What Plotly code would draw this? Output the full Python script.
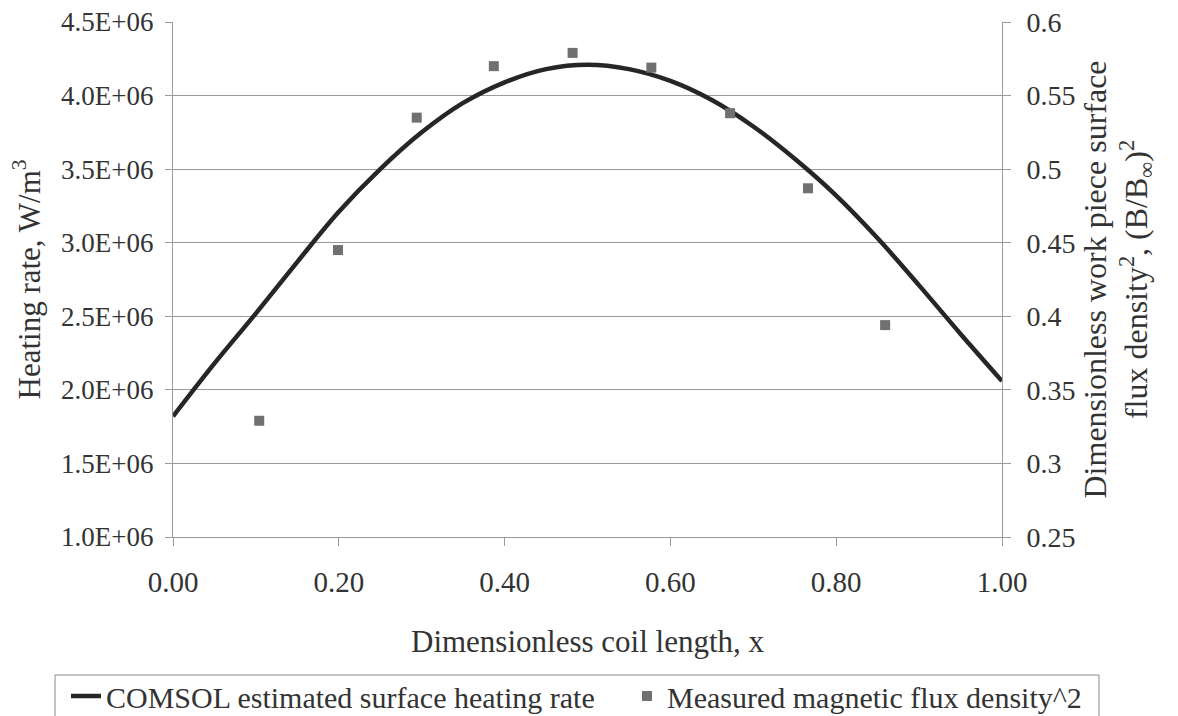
import plotly.graph_objects as go

# COMSOL estimated surface heating rate (W/m^3)
curve_x = [0.00, 0.05, 0.10, 0.15, 0.20, 0.25, 0.30, 0.35, 0.40, 0.45, 0.50,
           0.55, 0.60, 0.65, 0.70, 0.75, 0.80, 0.85, 0.90, 0.95, 1.00]
curve_y = [1.82e6, 2.18e6, 2.52e6, 2.87e6, 3.21e6, 3.50e6, 3.75e6, 3.95e6, 4.09e6, 4.18e6, 4.21e6,
           4.18e6, 4.10e6, 3.97e6, 3.79e6, 3.57e6, 3.32e6, 3.03e6, 2.71e6, 2.38e6, 2.06e6]

# Measured magnetic flux density^2 (dimensionless)
meas_x = [0.104, 0.199, 0.294, 0.387, 0.482, 0.577, 0.672, 0.766, 0.859]
meas_y = [0.329, 0.445, 0.535, 0.570, 0.579, 0.569, 0.538, 0.487, 0.394]

x_tickvals = [0.0, 0.2, 0.4, 0.6, 0.8, 1.0]
x_ticktext = ["0.00", "0.20", "0.40", "0.60", "0.80", "1.00"]
y_tickvals = [1.0e6, 1.5e6, 2.0e6, 2.5e6, 3.0e6, 3.5e6, 4.0e6, 4.5e6]
y_ticktext = ["1.0E+06", "1.5E+06", "2.0E+06", "2.5E+06", "3.0E+06", "3.5E+06", "4.0E+06", "4.5E+06"]
y2_tickvals = [0.25, 0.30, 0.35, 0.40, 0.45, 0.50, 0.55, 0.60]
y2_ticktext = ["0.25", "0.3", "0.35", "0.4", "0.45", "0.5", "0.55", "0.6"]

FONT = "Liberation Serif, Times New Roman, serif"
TXT = "#333333"
GRID = "#9a9a9a"

# page body has an 8px margin; plot area wanted at screen x 173..1002, y 22..537
PW, PH = 829, 515
W, H = 1170, 708
ML, MT = 165, 14
MR, MB = W - ML - PW, H - MT - PH


def px(xs):
    return (xs - 173) / PW


def py(ys):
    return (537 - ys) / PH


fig = go.Figure()
fig.add_trace(go.Scatter(
    x=curve_x, y=curve_y, mode="lines", line=dict(color="#262626", width=4.5, shape="spline"),
    name="COMSOL estimated surface heating rate", yaxis="y", legend="legend"))
fig.add_trace(go.Scatter(
    x=meas_x, y=meas_y, mode="markers",
    marker=dict(symbol="square", size=10, color="#707070"),
    name="Measured magnetic flux density^2", yaxis="y2", legend="legend2"))

leg_common = dict(orientation="h", yref="paper", y=py(670), yanchor="top", xanchor="left",
                  borderwidth=0, bgcolor="rgba(0,0,0,0)",
                  font=dict(size=30, family=FONT, color=TXT))

fig.update_layout(
    width=W, height=H,
    margin=dict(l=ML, r=MR, t=MT, b=MB, autoexpand=False),
    paper_bgcolor="white", plot_bgcolor="white",
    font=dict(family=FONT, color=TXT, size=28),
    showlegend=True,
    legend=dict(x=px(66), **leg_common),
    legend2=dict(x=px(627), **leg_common),
    xaxis=dict(range=[0, 1], tickvals=x_tickvals, ticktext=x_ticktext, showgrid=False, zeroline=False,
               showline=True, linecolor=GRID, linewidth=1, ticks="outside", ticklen=8, tickcolor=GRID,
               ticklabelstandoff=11, ticklabeloverflow="allow",
               tickfont=dict(size=29, family=FONT, color=TXT)),
    yaxis=dict(range=[1.0e6, 4.5e6], tickvals=y_tickvals, ticktext=y_ticktext, showgrid=True,
               gridcolor=GRID, gridwidth=1, zeroline=False, showline=True, linecolor=GRID, linewidth=1,
               ticks="outside", ticklen=7, tickcolor=GRID, ticklabelstandoff=6, ticklabeloverflow="allow",
               tickfont=dict(size=27, family=FONT, color=TXT)),
    yaxis2=dict(range=[0.25, 0.60], tickvals=y2_tickvals, ticktext=y2_ticktext, overlaying="y", side="right",
                showgrid=False, zeroline=False, showline=True, linecolor=GRID, linewidth=1,
                ticks="outside", ticklen=8, tickcolor=GRID, ticklabelstandoff=10, ticklabeloverflow="allow",
                tickfont=dict(size=28, family=FONT, color=TXT)),
)

# legend frame around both entries
fig.add_shape(type="rect", xref="paper", yref="paper", x0=px(55), x1=px(1099), y0=py(675), y1=py(740),
              line=dict(color="#8a8a8a", width=1), fillcolor="rgba(0,0,0,0)", layer="above")

fig.add_annotation(text="Dimensionless coil length, x", xref="paper", yref="paper", x=0.5, y=0,
                   xanchor="center", yanchor="middle", yshift=-104, showarrow=False,
                   font=dict(size=31, family=FONT, color=TXT))
fig.add_annotation(text="Heating rate, W/m<sup>3</sup>", xref="paper", yref="paper", x=0, y=0.5,
                   xanchor="center", yanchor="middle", xshift=-146, textangle=-90, showarrow=False,
                   font=dict(size=31, family=FONT, color=TXT))
fig.add_annotation(text="Dimensionless work piece surface<br>flux density<sup>2</sup>, (B/B<sub>\u221e</sub>)<sup>2</sup>",
                   xref="paper", yref="paper", x=1, y=0.5, xanchor="center", yanchor="middle",
                   xshift=115, textangle=-90, showarrow=False,
                   font=dict(size=32, family=FONT, color=TXT))

fig.write_html("out.html")
